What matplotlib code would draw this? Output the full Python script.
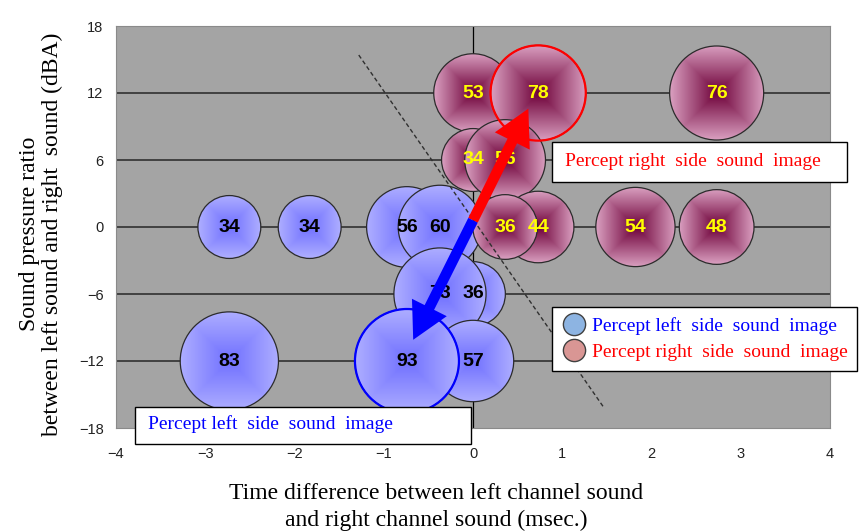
import matplotlib.pyplot as plt
import numpy as np
from matplotlib.patches import Ellipse, Rectangle
from matplotlib.lines import Line2D

# time difference (msec.), sound pressure ratio (dBA), percentage of answers
left_x = [-2.73, -1.83, -0.74, -0.37, 0.0, -0.37, -2.73, 0.0, -0.74]
left_y = [0, 0, 0, 0, -6, -6, -12, -12, -12]
left_val = [34, 34, 56, 60, 36, 73, 83, 57, 93]

right_x = [0.0, 0.73, 2.73, 0.0, 0.36, 0.73, 0.36, 1.82, 2.73]
right_y = [12, 12, 12, 6, 6, 0, 0, 0, 0]
right_val = [53, 78, 76, 34, 56, 44, 36, 54, 48]

x_ticks = [-4, -3, -2, -1, 0, 1, 2, 3, 4]
y_ticks = [-18, -12, -6, 0, 6, 12, 18]

# arrows and boundary line
arrow_start = (0.0, 0.6)
right_tip = (0.62, 10.6)
left_tip = (-0.67, -10.1)
guide_x = [-1.28, 1.46]
guide_y = [15.4, -16.1]

SERIF = 'Liberation Serif'
SANS = 'Liberation Sans'

W, H = 868, 532
fig = plt.figure(figsize=(W / 100, H / 100), dpi=100)
ax = fig.add_axes([116 / W, 1 - 428 / H, 714 / W, 402 / H])
ax.set_facecolor('#a4a4a4')
for s in ax.spines.values():
    s.set_color('#8a8a8a')
    s.set_linewidth(0.8)

# pixels per data unit, needed to keep bubbles round
px_x = 714 / 8
px_y = 402 / 36
R_MAX = 52
max_val = max(max(left_val), max(right_val))


def bubble_geom(x, y, v):
    r = R_MAX * np.sqrt(v / max_val)
    return r / px_x, r / px_y


def draw_bubble(x, y, v, c_mid, c_edge, z):
    rx, ry = bubble_geom(x, y, v)
    g = np.linspace(-1, 1, 81)
    t = np.maximum(np.abs(g)[None, :], np.abs(g)[:, None])
    c_mid = np.array(c_mid)
    c_edge = np.array(c_edge)
    img = c_mid + (c_edge - c_mid) * t[..., None]
    circ = Ellipse((x, y), 2 * rx, 2 * ry, facecolor='none',
                   edgecolor='#2b2b2b', lw=0.9, zorder=z + 0.05)
    ax.add_patch(circ)
    im = ax.imshow(img, extent=(x - rx, x + rx, y - ry, y + ry), origin='lower',
                   aspect='auto', interpolation='bilinear', zorder=z)
    im.set_clip_path(circ)


blue_mid, blue_edge = (0.44, 0.44, 1.0), (0.68, 0.68, 1.0)
red_mid, red_edge = (0.43, 0.0, 0.22), (0.85, 0.62, 0.75)

z = 2.0
for x, y, v in zip(left_x, left_y, left_val):
    draw_bubble(x, y, v, blue_mid, blue_edge, z)
    z += 0.1
for x, y, v in zip(right_x, right_y, right_val):
    draw_bubble(x, y, v, red_mid, red_edge, z)
    z += 0.1

# outline the largest bubble of each group
i = int(np.argmax(left_val))
rx, ry = bubble_geom(left_x[i], left_y[i], left_val[i])
ax.add_patch(Ellipse((left_x[i], left_y[i]), 2 * rx, 2 * ry, facecolor='none',
                     edgecolor='#0000ff', lw=1.6, zorder=4.5))
i = int(np.argmax(right_val))
rx, ry = bubble_geom(right_x[i], right_y[i], right_val[i])
ax.add_patch(Ellipse((right_x[i], right_y[i]), 2 * rx, 2 * ry, facecolor='none',
                     edgecolor='#ff0000', lw=1.6, zorder=4.5))

# data labels
for x, y, v in zip(left_x, left_y, left_val):
    ax.text(x, y, str(v), ha='center', va='center', fontsize=14,
            fontweight='bold', family=SANS, color='black', zorder=5)
for x, y, v in zip(right_x, right_y, right_val):
    ax.text(x, y, str(v), ha='center', va='center', fontsize=14,
            fontweight='bold', family=SANS, color='#ffff00', zorder=5)

# gridlines and the vertical axis at x = 0
for yy in y_ticks[1:-1]:
    ax.axhline(yy, color='#262626', lw=1.1, zorder=1)
ax.axvline(0, color='black', lw=0.9, zorder=1)

ax.plot(guide_x, guide_y, color='#303030', lw=1.0, ls=(0, (3, 2)), zorder=4.8)

arrow_style = 'simple,head_length=1.3,head_width=1.4,tail_width=0.38'
ax.annotate('', xy=right_tip, xytext=arrow_start,
            arrowprops=dict(arrowstyle=arrow_style, color='#ff0000', lw=0,
                            mutation_scale=20, shrinkA=0, shrinkB=0), zorder=7)
ax.annotate('', xy=left_tip, xytext=arrow_start,
            arrowprops=dict(arrowstyle=arrow_style, color='#0000ff', lw=0,
                            mutation_scale=20, shrinkA=0, shrinkB=0), zorder=7)

ax.set_xlim(-4, 4)
ax.set_ylim(-18, 18)
ax.set_xticks(x_ticks)
ax.set_yticks(y_ticks)
ax.tick_params(length=0, labelsize=10.5, colors='#222222')
ax.tick_params(axis='x', pad=14)
ax.tick_params(axis='y', pad=9)
for lab in ax.get_xticklabels() + ax.get_yticklabels():
    lab.set_family(SANS)

# axis titles
fig.text(436 / W, 1 - 507 / H,
         'Time difference between left channel sound\nand right channel sound (msec.)',
         ha='center', va='center', fontsize=17, family=SERIF, linespacing=1.4)
fig.text(41 / W, 1 - 234 / H,
         'Sound pressure ratio\nbetween left sound and right  sound (dBA)',
         rotation=90, ha='center', va='center', fontsize=17, family=SERIF,
         linespacing=1.15, multialignment='center')

# callout boxes
fig.add_artist(Rectangle((552 / W, 1 - 182 / H), 295 / W, 40 / H,
                         transform=fig.transFigure, facecolor='white',
                         edgecolor='black', lw=1.0, zorder=10))
fig.text(565 / W, 1 - 162 / H, 'Percept right  side  sound  image', color='#ff0000',
         ha='left', va='center', fontsize=14, family=SERIF, zorder=11)
fig.add_artist(Rectangle((135 / W, 1 - 444 / H), 336 / W, 37 / H,
                         transform=fig.transFigure, facecolor='white',
                         edgecolor='black', lw=1.0, zorder=10))
fig.text(148 / W, 1 - 424 / H, 'Percept left  side  sound  image', color='#0000ff',
         ha='left', va='center', fontsize=14, family=SERIF, zorder=11)

handles = [
    Line2D([], [], ls='none', marker='o', markersize=16,
           markerfacecolor='#8db4e2', markeredgecolor='#404040', markeredgewidth=1.0),
    Line2D([], [], ls='none', marker='o', markersize=16,
           markerfacecolor='#d99694', markeredgecolor='#404040', markeredgewidth=1.0),
]
leg = ax.legend(handles, ['Percept left  side  sound  image', 'Percept right  side  sound  image'],
                loc='upper left', bbox_to_anchor=(552 / W, 1 - 307 / H),
                bbox_transform=fig.transFigure, borderaxespad=0, fancybox=False,
                framealpha=1, edgecolor='black', labelcolor=['#0000ff', '#ff0000'],
                prop={'family': SERIF, 'size': 14}, handlelength=1.3,
                handletextpad=0.25, borderpad=0.5, labelspacing=0.45)
leg.get_frame().set_linewidth(1.0)
leg.set_zorder(12)

fig.savefig('out.png', dpi=100)
